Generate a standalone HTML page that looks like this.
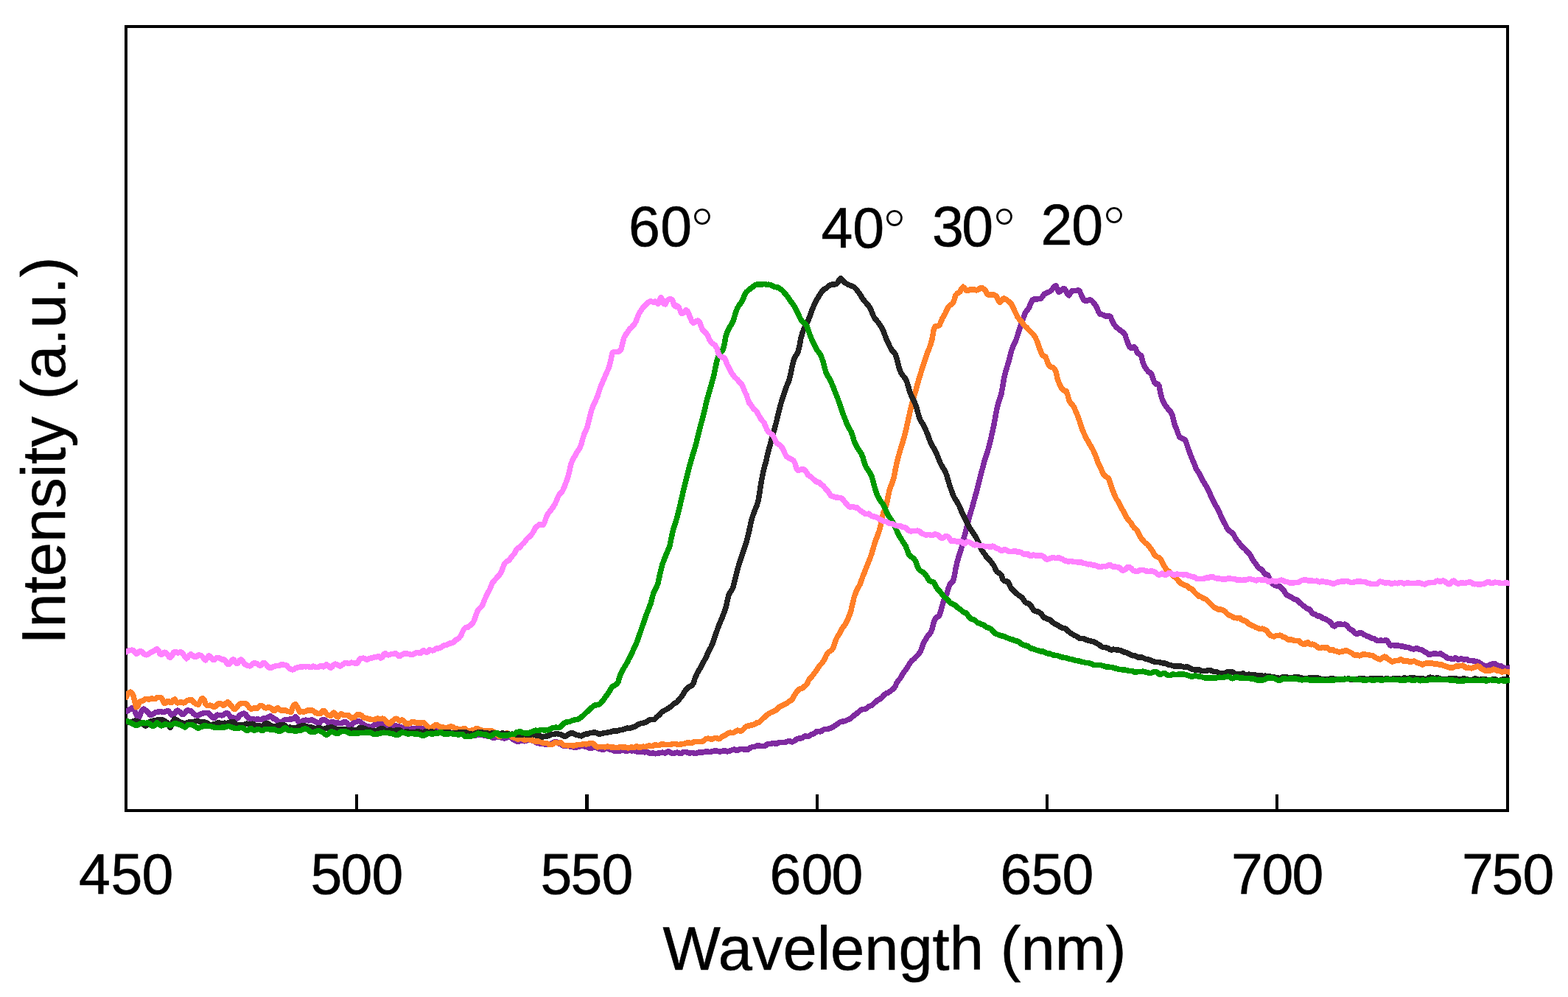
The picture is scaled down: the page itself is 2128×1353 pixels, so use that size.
<!DOCTYPE html>
<html lang="en">
<head>
<meta charset="utf-8">
<title>Intensity vs Wavelength</title>
<style>
html,body{margin:0;padding:0;background:#fff;}
body{width:2128px;height:1353px;overflow:hidden;position:relative;}
svg{position:absolute;left:0;top:0;display:block;}
text{font-family:"Liberation Sans",sans-serif;fill:#000;stroke:#000;stroke-width:0.6px;stroke-linejoin:round;}
.tick{font-size:77px;}
.ann{font-size:77px;}
.thin{fill:#fff;stroke:none;}
.trim{fill:none;stroke:#fff;stroke-width:3.2px;}
.title{font-size:83px;text-anchor:middle;}
.curve{fill:none;stroke-width:7.5;stroke-linejoin:round;stroke-linecap:butt;shape-rendering:crispEdges;}
</style>
</head>
<body>
<svg width="2128" height="1353" viewBox="0 0 2128 1353">
<rect x="0" y="0" width="2128" height="1353" fill="#fff"/>
<g id="frame" fill="none" stroke="#000" stroke-width="4" shape-rendering="crispEdges">
<rect x="171" y="36" width="1875" height="1064"/>
<path d="M482 1078h4v22h-4zM794 1078h5v22h-5zM1107 1078h4v22h-4zM1419 1078h4v22h-4zM1731 1078h4v22h-4z" fill="#000" stroke="none"/>
</g>
<defs><clipPath id="plotclip"><rect x="171" y="30" width="1878" height="1075"/></clipPath></defs>
<g id="curves" clip-path="url(#plotclip)">
<path class="curve" stroke="#7f2aa0" d="M167.0 964.9l2-0.6l2 0.8l2-0.3l2-1.4l2-1.1l2-1.5l2 0.3l2 4l2 4.1l2 3.9l2-0.1l2-5l2-4.3l2-1.6l2 1.8l2 1l2 2l2 3l2 0.4l2-0.9l2-1.2l2-1.3l2-0.6l2-0.2l2-0.5l2 0.2l2 0.6l2 0l2-1l2-0.9l2 0.7l2 2.6l2 2.5l2 0.8l2-2.5l2-3.5l2-1l2 1.2l2 2l2 2.3l2 0.1l2-2.1l2-3l2-0.9l2 0.6l2 0.6l2 1.7l2 2.2l2 1.6l2 0.6l2-0.2l2-1.1l2-0.8l2-0.7l2-0.7l2 0l2 0.1l2 0.1l2 2.3l2 2.1l2 2l2 0.4l2-2.7l2-1.7l2 0.3l2 0l2 0.4l2-0.3l2-1.7l2-1.4l2 0.7l2 2.5l2 2.3l2 0.8l2 0.4l2 0.4l2 0.7l2-0.8l2-3.7l2-1.2l2-0.8l2-0.7l2 1l2 3l2 2.4l2 0.9l2 0.6l2 0l2 0.3l2 0.2l2-0.6l2 0.2l2 0.8l2-0.4l2-1.3l2-0.4l2-0.3l2-0.7l2-1.1l2-0.7l2 1.3l2 1.9l2 0.8l2 1l2 2.1l2 1l2 0l2-0.3l2-2.1l2-1.2l2 0.3l2-0.4l2-0.1l2-0.2l2-0.4l2-0.9l2-2.1l2 2.2l2 4.7l2 0.8l2-0.5l2-1.6l2-0.8l2-0.2l2 0.2l2 0.5l2-0.6l2-0.4l2 0.9l2 1l2 1l2 1.6l2 0.4l2-2.1l2-2.6l2-0.6l2 0.7l2 1.3l2 1.6l2 0.6l2-0.5l2-0.6l2 0.4l2 1l2 0.1l2-0.1l2 0.6l2 0.1l2-1l2-0.9l2-0.2l2 1.6l2 2.6l2 1.5l2-1.1l2-2.6l2-1.7l2-0.6l2-0.5l2-0.1l2 0.7l2 1.9l2 2l2 1.1l2 0.7l2 0.6l2 0.5l2 0.2l2-0.5l2-1.4l2-1.2l2-0.4l2 0.1l2 0.1l2-0.2l2 0.1l2 0.6l2 1.1l2 1.9l2 1.1l2 0.1l2-0.8l2-1.7l2-0.8l2 0.4l2 0.7l2 0l2 0.8l2 1.1l2 0.3l2 0.6l2 0.9l2 0.2l2 0l2 0l2-0.7l2-0.2l2 0.6l2-0.7l2-1.4l2 0.5l2 1.1l2-0.3l2 0.3l2 2l2 1l2 0.5l2 1.1l2 0.9l2-0.1l2-1.5l2-1.2l2 0.5l2 0.8l2 0.4l2-0.4l2-0.3l2 0.3l2-0.2l2 0.6l2 1.2l2 0.9l2-0.2l2-1l2 0.7l2 0.9l2 0l2-0.1l2-0.1l2 0.6l2 0.2l2-0.8l2 0.1l2 0.4l2 0.5l2 0.8l2 0.5l2 0.5l2 0.1l2-0.6l2-0.5l2-0.3l2 0.1l2 0.6l2 0.5l2 0.2l2 0.5l2 0.4l2 0l2 0.8l2 1.5l2 0l2-1.1l2-0.4l2 0.1l2 0.5l2 0.9l2 0.2l2 0.2l2-0.3l2-1.6l2-0.7l2 1.2l2 2.2l2 0.8l2 1.2l2 1.3l2 0.5l2-0.5l2-1.2l2-0.1l2 1.1l2-0.1l2-1l2-0.2l2-0.3l2 0l2 1l2 0.8l2 1.1l2 1.1l2 0.5l2 0.5l2 0.3l2 0l2 0.5l2 0.4l2-0.1l2-0.4l2-0.6l2-0.3l2-1.1l2-1.3l2 0.2l2 1.8l2 0.4l2 0.3l2 1.7l2 1.4l2 0.4l2-0.4l2-0.1l2 0.7l2 0.1l2 0.4l2 0.8l2 0.2l2-0.7l2-0.4l2-0.4l2-0.6l2 0.2l2 0.2l2 0.3l2 0.7l2 0.8l2 1.1l2-0.4l2-1.4l2 0.1l2 0.6l2 0.8l2 0.7l2 0.5l2 0.4l2 0.1l2-0.9l2-0.9l2 0.5l2 1l2 0.4l2 0.7l2 1.1l2 0.2l2-0.1l2 0.2l2-0.1l2-0.5l2-0.4l2 0l2 0.9l2 0.3l2-1.3l2-0.1l2 0.8l2-0.2l2 0l2 1l2 0.6l2 0.4l2-0.5l2-0.7l2 0.8l2 0.7l2-0.6l2 0.3l2 1.3l2 0.7l2-0.5l2-0.2l2 0.8l2-0.2l2-0.6l2-0.1l2-0.4l2-0.4l2 0.6l2 0.2l2-1.5l2-0.7l2 1.3l2 0.8l2 0.5l2-0.1l2-0.9l2-0.1l2 0.7l2 0.6l2-0.4l2-1.2l2-0.4l2 0.2l2 0.4l2 0.9l2 0l2-0.5l2 0.4l2 0.7l2-0.5l2-0.8l2-0.2l2-0.3l2 0.1l2-0.2l2-0.7l2-0.2l2 0.4l2 0.3l2-0.3l2-0.7l2-0.3l2 0l2 0l2 0.5l2 0.3l2-0.2l2-0.6l2-0.5l2 0.5l2 0.7l2-0.3l2-1l2-0.6l2-0.7l2-0.3l2 1.1l2 0.3l2-1l2-1l2-0.1l2 0.6l2-0.1l2 0.2l2 0.2l2-1.2l2-1.7l2-0.6l2-0.1l2-0.6l2-1l2-0.3l2 0.5l2 0.5l2 0l2 0l2-0.7l2-1.9l2-0.8l2 0.4l2-0.6l2-0.6l2 0.5l2 0.4l2-0.6l2-1.1l2-0.4l2 0.1l2 0.1l2-0.1l2-0.5l2-0.9l2-0.7l2 1l2 0.6l2-0.9l2-1.2l2-1.5l2-1l2-0.5l2 0.1l2-0.6l2-1.6l2-0.9l2 0.5l2 0.3l2-1.3l2-1.5l2-0.6l2-1l2-1.5l2-1.4l2 0.1l2 0.6l2-0.9l2-1.6l2-0.9l2 0l2-0.3l2-0.5l2-0.4l2-1.2l2-1.1l2-1.1l2-1.5l2-1.3l2-1.6l2-1.1l2-0.3l2-0.3l2-0.4l2-0.9l2-1.1l2-0.7l2-1.2l2-2l2-1.6l2-1.3l2-1.5l2-1.8l2-1.7l2-1.6l2-0.5l2-0.1l2-0.8l2-1.3l2-1.7l2-0.7l2-0.5l2-2l2-1.8l2-1.7l2-2l2-0.9l2-0.9l2-1.8l2-2.2l2-2.1l2-1.2l2-0.8l2-1.1l2-1.6l2-1.6l2-1.5l2-3.1l2-4.4l2-3l2-2.2l2-3.2l2-3.6l2-3l2-2.7l2-2.9l2-3.2l2-3.1l2-2.8l2-1.6l2-1.7l2-2.5l2-1.6l2-2.1l2-3.3l2-4.6l2-6.2l2-3.7l2-3.2l2-3.5l2-2l2-2.5l2-5.3l2-7.6l2-5.7l2-2.2l2-0.9l2-2.2l2-6.1l2-7.7l2-6.3l2-4.8l2-4.4l2-6.7l2-5.5l2-2.3l2-1.2l2-6.7l2-11.2l2-9l2-7l2-6.1l2-6.6l2-8.2l2-7.9l2-7l2-8.2l2-8.8l2-6.7l2-6.2l2-7.4l2-7.2l2-7.2l2-7.7l2-8.2l2-7.8l2-7.5l2-8l2-6.7l2-5.8l2-6.6l2-7.2l2-8.6l2-9l2-8.9l2-11.2l2-10.7l2-7.7l2-6.1l2-6.3l2-10.9l2-12.2l2-7.5l2-6.6l2-6.5l2-8.1l2-7.5l2-5.3l2-4.1l2-4.6l2-5.9l2-6.4l2-6.1l2-5.4l2-6.2l2-5.6l2-3.1l2-2.3l2-3.6l2-5.1l2-4.2l2-1.1l2 0.2l2 0l2-0.5l2-0.3l2-0.5l2-2.7l2-2.9l2-1.2l2-1l2-0.7l2-0.8l2-1.8l2-2.4l2-3l2-0.7l2 5.3l2 3.3l2-0.9l2-2.2l2-1.6l2 0.5l2 3.5l2 3.8l2 1.3l2-3.3l2-3.1l2 0.2l2 0.2l2-0.3l2-0.6l2 1l2 4.3l2 4.7l2 3.7l2 0.8l2-0.3l2-0.4l2-0.8l2 0.6l2 2.2l2 2.2l2 3l2 3.6l2 4.9l2 3.2l2 0l2 0.9l2 1.1l2 0.8l2-0.3l2-0.5l2 1.3l2 4.5l2 4.5l2 2.8l2 2.3l2 1.8l2 1.6l2 1.6l2 1.4l2 1.5l2 3l2 6.2l2 5.5l2 4.3l2 1.7l2-0.8l2-0.8l2 1.4l2 5.4l2 2.1l2 1.5l2 2l2 8l2 5.3l2 2.9l2 3l2 2.4l2 0.9l2 2.5l2 6.2l2 5l2 1.9l2-0.4l2 2.7l2 10l2 7.4l2 4.2l2 3.9l2 2.8l2 2.7l2 2.6l2 1.7l2 4.7l2 8.2l2 6.5l2 4.7l2 5.8l2 4.4l2 1.3l2 0.6l2 0.8l2 2.2l2 5.7l2 6.2l2 5.2l2 5.4l2 4.6l2 4.8l2 5.2l2 3.6l2 2.6l2 4.1l2 4.3l2 3.5l2 3.1l2 3.2l2 3.5l2 4.1l2 4.9l2 4.5l2 3.9l2 3.7l2 3.6l2 3.3l2 4.3l2 4.8l2 4.3l2 3.6l2 3.8l2 4.2l2 2.8l2 1.9l2 1.4l2 1.3l2 3.4l2 4l2 2.4l2 2.2l2 2.9l2 2.9l2 1.7l2 1.3l2 2.4l2 2.2l2 2l2 2.9l2 3.6l2 3.3l2 2.8l2 2.5l2 3.1l2 2.4l2 0.5l2 1.4l2 3.4l2 2.4l2 0.2l2 1.6l2 3.9l2 4l2 3.1l2 1.5l2 1.1l2 0.5l2-0.1l2 0.8l2 2.2l2 1.6l2 2.7l2 3.5l2 1.9l2 0.9l2 1.1l2 1.1l2 1.4l2 1.2l2 0.4l2 0.8l2 2.2l2 1.9l2 1.8l2 1.7l2 1.3l2 1.7l2 1l2 0.5l2 2.2l2 3.1l2 1.1l2 0.3l2 1.7l2 1.2l2-0.2l2 1l2 1.7l2 0.6l2 0.6l2 1.4l2 0.9l2 1.4l2 2.6l2 2.5l2 1l2-1.3l2-1.6l2-0.4l2 0.4l2 0.4l2-0.1l2-0.1l2 1l2 2.1l2 2.5l2 1.5l2 0.8l2 2.2l2 2.1l2 0.7l2-0.2l2-1l2-0.3l2 1.3l2 1.2l2 0.9l2 1.2l2 0.5l2 0.8l2 1.5l2 0.5l2 0.2l2 1.4l2 1.5l2 0l2-0.6l2 0.1l2 0.4l2-0.4l2-0.8l2 2l2 3.2l2 2.4l2-0.2l2-0.4l2 1.1l2-0.2l2-0.6l2 0.9l2 0.3l2 0.1l2 0.5l2 0.7l2 0.2l2 0.1l2 0.8l2 1l2 0.5l2 0.2l2-0.8l2-0.4l2 1.1l2 0.5l2 0.4l2 1.2l2 1.2l2 1.1l2 1.4l2 1.5l2 0.1l2-0.5l2-0.5l2-0.6l2 0.4l2 0.6l2-0.3l2-0.4l2 1.2l2 1.5l2 0.8l2 1.7l2 1.5l2 0l2 0.2l2 0.8l2-0.5l2-1.3l2 0.5l2 1.8l2-0.4l2-1.2l2 0.9l2 0.9l2-0.6l2 0l2 1.5l2 0.5l2-0.2l2 0.4l2 0.1l2 0.6l2 0.7l2 0.4l2 1.6l2 1.6l2 0.8l2 0.9l2 0.7l2-0.2l2-1.2l2-1.2l2-0.6l2-0.8l2 0.2l2 1.6l2 1.7l2 0.5l2-0.4l2 1.2l2 1.1l2 0.5l2 0.2l2-0.5l2-0.2l2 0.1l2-0.3"/>
<path class="curve" stroke="#ff7f27" d="M167.0 946.7l2-0.2l2 0.2l2-4.1l2-2.6l2-0.8l2 1.5l2 3.8l2 8l2 7.2l2-1.4l2-5.7l2-1l2-0.5l2-0.9l2-1.3l2-0.5l2 0.6l2-0.2l2-0.7l2-0.1l2 0.8l2-0.4l2-1.6l2-0.3l2-0.1l2 0.6l2 3.6l2 3.9l2-0.5l2-2.3l2 0.2l2 1.8l2-0.4l2-3.2l2-1.1l2 2.5l2 2.4l2-0.3l2-1.1l2 0.6l2 0.8l2-0.6l2-2l2-1l2-0.2l2-0.8l2 1.4l2 2.3l2 1.4l2 1.3l2 0.6l2-3.2l2-4l2-1.7l2 2.3l2 5.7l2 2.3l2-0.1l2-0.5l2 0.3l2 1.4l2 0.8l2-1.4l2-2.5l2-1.1l2 0.1l2 1.2l2 1.5l2-1.2l2-2l2-1.3l2 1.1l2 3.1l2 2l2 2.7l2 0.7l2-1.8l2-3l2-2.2l2-0.7l2-0.2l2 0.1l2 0.1l2 1l2 2.7l2 2.5l2 1.2l2-0.5l2-0.8l2 0.1l2 0.3l2-1.7l2-1.8l2-0.3l2 1l2 1.9l2 0.6l2-0.9l2-0.2l2 0.6l2 1.3l2 2.6l2 0l2-2.9l2-0.6l2 2l2 1l2 0.4l2-0.3l2-0.1l2 0.9l2 0.6l2 0.5l2 0.4l2-6.1l2-3.3l2-1l2 2.8l2 3.5l2 3.9l2-0.4l2 0.1l2 0.2l2-0.8l2-1.2l2 0l2 0.2l2-0.3l2 0.6l2 1.8l2 1.4l2 0.3l2 0.6l2 0.1l2-2.6l2-1.8l2 1.4l2 2.8l2 1.7l2 0.8l2 0.1l2-2.1l2-1.9l2 2.1l2 3.3l2 0.4l2-2.6l2-1.7l2 1l2 1l2-0.2l2-0.1l2 0.6l2 2.1l2 1.2l2-0.6l2-0.4l2-1.7l2-1.7l2 0.2l2 0.1l2 1.2l2 2.3l2 0.7l2 0l2 0.8l2 0.8l2 0.2l2 0.4l2 0l2-0.4l2-0.7l2-0.4l2 0.5l2 0l2-0.4l2 0.4l2 1.9l2 2.5l2 2l2 0.1l2-1.7l2-2.1l2-1.7l2-1.3l2 0.2l2 1.9l2 0.8l2-1l2 0.2l2 2.3l2 2.6l2 0.2l2-0.5l2-0.8l2-1.3l2-0.3l2 0.8l2 0.5l2 0.2l2 0.2l2 0.1l2-0.7l2-0.1l2 2l2 2.2l2 1.6l2 2l2 0.3l2-1.3l2-2l2-1.6l2 0.1l2 1.3l2 1.1l2 0.2l2 0.4l2 0.8l2 0.3l2-0.3l2-0.9l2-0.5l2 0l2 0.7l2 1.1l2 0.5l2 0.6l2 0.3l2 0.6l2-0.1l2-1.3l2 0.1l2 1.8l2 1.2l2 0.5l2-0.8l2-0.5l2 0.1l2-1.2l2-1.5l2 0.8l2 0.9l2 0.8l2 1.4l2-0.1l2-0.8l2 0.2l2 0.7l2-0.1l2-0.2l2 0.8l2 1.1l2 1.3l2 2.2l2 2.2l2 0l2-1.4l2-0.8l2-1l2-1.1l2-0.1l2 0.9l2 2.2l2 2.2l2 0.5l2 0.1l2 1.1l2 1.2l2-1l2-1.1l2 1.4l2 1.5l2 0l2-0.6l2 0.1l2 0.3l2-0.1l2 0.7l2 1.2l2 0.5l2 0l2-0.3l2 0.2l2 1.1l2 1.1l2 0.2l2 0l2 0.5l2 1.1l2 0.5l2-0.5l2-1l2-1.2l2-0.3l2 0.8l2-0.1l2-0.7l2 2l2 2l2-0.2l2 0.1l2 0.3l2-0.3l2 0l2 0.5l2-0.1l2-0.5l2-0.4l2-0.6l2 0l2 0.1l2-0.6l2-0.3l2 0.3l2-0.1l2-0.7l2-0.7l2 0.1l2 0.8l2 1.5l2 2.2l2 1l2-0.5l2-0.2l2 0l2 0.2l2 0.4l2-0.6l2-0.2l2 0.5l2 0.2l2 0.1l2 0.3l2 0.3l2 0.1l2-0.3l2-0.5l2-0.1l2 0.2l2 0.2l2 0l2 0.6l2 0.3l2-0.7l2-0.4l2 0.4l2 0l2-1.1l2-0.2l2 1.1l2 0.2l2-0.9l2-0.3l2 0.6l2-0.4l2-0.9l2-0.5l2 0.4l2 0.4l2-0.8l2-1.2l2 0.3l2 0.8l2-0.4l2-1.2l2-0.5l2 0.5l2 0.5l2-0.2l2-0.2l2 0.2l2-0.4l2-0.6l2-0.2l2 0.3l2 0.5l2 0.4l2-0.3l2-0.4l2-0.1l2-0.6l2-0.4l2-0.8l2-0.1l2 0.7l2-0.4l2-0.9l2-0.6l2-0.3l2 0.1l2 0.1l2-0.2l2-0.1l2-1l2-1.6l2-1.3l2-0.1l2 0.5l2 0.5l2-0.3l2-0.9l2-0.7l2 0.5l2 1l2-0.5l2-1.7l2-1.4l2-0.8l2-1.2l2-1.5l2-1.2l2-0.5l2 0.5l2-0.1l2-0.9l2-1.4l2-1l2 0.3l2 0.9l2-0.6l2-2.3l2-2.1l2-1.5l2-0.7l2-0.2l2-0.8l2-0.2l2-0.3l2-1.6l2-1.2l2 0l2-1.4l2-2l2-1.9l2-1.6l2-1.7l2-2l2-1.5l2-1.3l2-0.7l2-0.8l2-1.1l2-0.9l2-2.1l2-2l2-0.9l2-1l2-1.2l2-1.2l2-0.8l2-1.2l2-1.6l2-1l2-1.7l2-3.6l2-3.6l2-2.5l2-2.9l2-1.6l2-0.2l2-1l2-1.9l2-1.3l2-2.2l2-4.3l2-3.4l2-1.6l2-2.5l2-3l2-2.4l2-3l2-3.1l2-2.5l2-2.2l2-2.3l2-3.4l2-4.6l2-3.6l2-1.9l2-1.1l2-1.7l2-3.4l2-5.8l2-5.7l2-3.8l2-3l2-3.3l2-3.9l2-2.9l2-2.8l2-3.8l2-4.2l2-4.9l2-6.1l2-8.6l2-8.6l2-5.8l2-4.6l2-3.8l2-3.6l2-5.3l2-5.9l2-4.8l2-5l2-5l2-5l2-5.3l2-5.6l2-7.1l2-6.5l2-5.8l2-5.4l2-5.4l2-7.8l2-10.5l2-7.4l2-4.9l2-5.5l2-10l2-9.4l2-5.9l2-4.8l2-6.5l2-10.3l2-9.4l2-8.1l2-7.2l2-6.5l2-6.4l2-7.1l2-7.9l2-8.5l2-9.3l2-8.8l2-8.1l2-7.8l2-7.1l2-6.4l2-7.5l2-7.6l2-6.2l2-6.3l2-6.6l2-5.7l2-6.3l2-5.8l2-4.4l2-5.8l2-7l2-11.6l2-5.7l2-0.4l2 0l2-1.4l2-4.5l2-4.9l2-3.1l2-3.7l2-4.6l2-3.9l2-2.2l2-1l2-1.9l2-4.4l2-6.2l2-2.7l2-0.7l2-1.5l2-4.1l2-2.5l2 1.8l2 2.7l2 0.8l2-0.8l2-1.1l2 0.2l2 0l2 0.3l2 0.6l2-0.2l2-1.6l2-1.6l2 0.3l2 1.5l2 1.6l2 4.1l2 2.1l2 0l2-0.1l2-0.1l2 0.3l2 0.9l2 2.1l2 4.6l2 2.6l2-2l2-2.9l2-0.4l2 1.4l2 1l2 1.8l2 1.9l2 2l2 4.1l2 4.7l2 4.1l2 4.1l2 2.8l2 1.7l2 2.7l2 3.2l2 2.1l2 1.6l2 2.2l2 2.3l2 2l2 1.7l2 2l2 3.3l2 4.3l2 5.5l2 5.8l2 5l2 3.8l2 1.2l2 0.9l2 5.4l2 5.5l2 2.1l2 1l2 0.2l2 1.9l2 4l2 9.2l2 5.5l2 4.5l2 3.6l2 2.1l2 1.2l2 0.4l2 5.1l2 8.1l2 2.9l2 1.7l2 2.9l2 4.4l2 4.5l2 5l2 5.7l2 6.3l2 5.8l2 4.8l2 4.2l2 3.9l2 3.4l2 3.7l2 3.4l2 3.3l2 4.4l2 4.7l2 5.5l2 5.4l2 3.6l2 4.5l2 4.6l2 2.7l2 1.7l2 1.1l2 2.1l2 6.3l2 6.3l2 5l2 5l2 4.3l2 2.7l2 3.8l2 4.3l2 3.1l2 3.6l2 4.1l2 3.4l2 3l2 2.3l2 2.3l2 3.4l2 2.8l2 1.7l2 2.1l2 3.7l2 4l2 3.2l2 2.6l2 2.2l2 1.9l2 1.2l2 2.4l2 2.9l2 2.2l2 3.6l2 3.5l2 1.8l2 1.1l2 0.5l2 2.1l2 4.1l2 3.8l2 3.5l2 3l2 2l2 0.9l2 1.7l2 2.5l2 1.8l2 1.6l2 1.8l2 2.3l2 2.7l2 1.5l2 1.1l2 1.1l2 0.3l2 0.8l2 2.1l2 1.5l2 0.3l2 1.6l2 2.9l2 1.9l2 1.8l2 1.9l2 0.4l2 0.9l2 1.4l2 0.6l2 1.2l2 1.8l2 2.2l2 2l2 1.7l2 2.1l2 1.4l2 1l2 1.2l2 0.3l2-0.3l2 0.5l2 1.2l2 1.5l2 2.4l2 2l2 0.7l2 0.7l2 1.2l2 1l2 0.3l2 0.4l2-0.5l2 0.2l2 2.2l2 1.1l2 0.1l2 1.1l2 1.9l2 1.8l2 0.9l2 1l2 0.9l2 0.8l2 1.3l2 0.6l2 0.8l2 0.4l2-0.4l2 0.8l2 0.7l2 1.1l2 2.9l2 2.8l2 1.3l2 0.7l2 0.5l2-0.9l2-0.6l2 0.1l2-0.4l2 0.7l2 1.4l2 0.7l2 0.7l2 1.6l2 0.9l2-0.1l2 0.2l2 0.6l2 0.5l2 0.4l2-0.2l2 0.3l2 2.1l2 1.6l2 0.7l2-0.1l2-1.8l2-0.5l2 2l2 1l2-0.6l2 0.3l2 1.5l2 1.3l2 1.4l2 0.9l2-0.5l2-0.7l2 0.6l2 0.1l2-0.3l2 1.6l2 1.8l2-0.5l2 0.2l2 1.7l2 0.1l2 0.3l2 0.9l2-0.2l2-0.5l2-0.3l2-0.9l2-0.4l2 0.9l2 1.1l2 0.9l2 1.1l2 1.5l2 1l2 0l2 0.1l2 0.6l2-0.2l2-1.4l2-0.7l2 0.8l2 0l2 0.1l2 0.9l2 0.3l2 0.3l2 1.3l2 1.3l2 0.9l2 1l2 0.5l2-1.2l2-1.6l2-0.9l2 0.6l2 2.2l2 1.1l2 1.3l2 1.5l2-0.1l2-0.9l2-0.5l2 0.1l2-0.6l2-1.1l2 0.6l2 1.7l2 0.1l2-0.7l2 0.8l2 0.9l2 0l2-0.6l2-0.4l2 0.8l2 1.2l2 0.6l2 0.5l2 1.1l2 0.7l2-1.2l2-0.9l2-0.2l2 0l2 0.3l2-0.2l2 0.4l2 0.8l2-0.3l2 0.3l2 0.9l2 0l2 0l2 1.1l2 0.7l2 0.5l2 1l2 0.5l2 0.2l2 0.2l2-0.6l2-1.2l2-0.6l2 0l2 0l2-0.4l2-0.3l2 1.1l2 1.6l2 0.6l2-0.3l2 0.3l2 0.6l2-0.8l2-0.8l2-0.4l2-0.8l2 0l2 1.9l2 1.7l2 0.9l2 1.2l2 0.8l2-0.6l2-0.4l2 0.2l2-0.7l2-1l2 0.5l2 1.3l2 0.2l2 0.3l2 1.1l2 0.4l2-0.6l2-0.4l2 0.6l2 0.3l2 0.4l2 1l2-0.9"/>
<path class="curve" stroke="#222222" d="M167.0 979.3l2 0.2l2 0.3l2 0.1l2 0.1l2 0.2l2-0.5l2-1l2-0.6l2 0.3l2 0.8l2 0.7l2 0.6l2 1l2 1.6l2 1.8l2-0.1l2-2.5l2-2.6l2-0.9l2-0.4l2-0.9l2-0.1l2-0.2l2-0.6l2 0.3l2 0.4l2-0.2l2 1.2l2 1.3l2 1l2 3.6l2 3.3l2-3.3l2-5.4l2-2.9l2 0.5l2 1.4l2 1.4l2 1.2l2 0.5l2 0.9l2 0.6l2-0.9l2-1.1l2-0.4l2-0.1l2 0l2-0.4l2-0.6l2-0.5l2 0.2l2 0.8l2 0.2l2-0.3l2 0.4l2 0.7l2 0.6l2 1.5l2 1.1l2-0.2l2-0.3l2-0.1l2-0.9l2-1.1l2-0.2l2 0.8l2 0.4l2-0.6l2-0.3l2 0.4l2-0.2l2-0.8l2-0.7l2-0.4l2 0.4l2 2.3l2 2.2l2 0.2l2-0.7l2-0.3l2 0.5l2-0.1l2-1l2-0.7l2 0.5l2 0.2l2-0.6l2-0.1l2 1.3l2 1l2 0.2l2 0.3l2 0.2l2 0.3l2-0.4l2-2.4l2-0.8l2 0l2 0.8l2 1.4l2 1.3l2 0.8l2-0.2l2-0.5l2-0.6l2-0.7l2-0.1l2-0.3l2-0.3l2 1.5l2 1.9l2 0.5l2-0.3l2 0.2l2 0.5l2 0.3l2-0.1l2-0.7l2-0.7l2-0.8l2-0.8l2-0.4l2 0.3l2 0.5l2 0.6l2 0.6l2 0.1l2 0.5l2 0.6l2 0.5l2 0.1l2-0.3l2-0.4l2 0.4l2 1.4l2 0.4l2-1l2-0.8l2-0.3l2-0.4l2-0.4l2 0l2 1l2 1l2 0.4l2 0.6l2 0.1l2-0.5l2-0.2l2 0.1l2 0.1l2 0.8l2 0.8l2-0.6l2-0.4l2 0.4l2 0.4l2 0l2-0.6l2-1.5l2-1.6l2 0.1l2 0.7l2 0.6l2 1l2 0.8l2 0.1l2 0.5l2 0.4l2-0.1l2 0.5l2 0.1l2-1.1l2-1.1l2-1.1l2-0.1l2 1.3l2 1.2l2 0.4l2-0.2l2-0.2l2 0.1l2 0.3l2 0.2l2-0.6l2-0.5l2-0.1l2 0.8l2 1.4l2 1.2l2-0.4l2-0.8l2 0.2l2 0.4l2 0.3l2 0.1l2 0.1l2-0.2l2-0.5l2 0l2 0l2 0.5l2 1.1l2-0.6l2-1.4l2 0l2 0.6l2 0l2-0.5l2 0.2l2 0.7l2 0.4l2 0.2l2 0.2l2-0.3l2-0.6l2 0l2-0.2l2 0l2 0.2l2-0.1l2 0.7l2 0.9l2-0.1l2-0.6l2-0.1l2 0.1l2-0.4l2-0.2l2-0.3l2-0.2l2 0.2l2 0.5l2 1.3l2 0.5l2 0l2 0.7l2-0.3l2-1.2l2-0.7l2-0.3l2-0.4l2 0l2 0.7l2 0.4l2-0.1l2 0.3l2 0.9l2 0.1l2-0.7l2-0.2l2 0.1l2-0.2l2 0.1l2 0.5l2 0l2-0.4l2 0.1l2 0.7l2-0.3l2-0.3l2 1l2 0.2l2-0.3l2 0.2l2 0.3l2 0.6l2-0.1l2-0.4l2 0.5l2-0.2l2-0.7l2 0.6l2 0.5l2 0l2-0.1l2-0.6l2-0.1l2 0.6l2 0.6l2-0.1l2-0.2l2 1.2l2 1.3l2-0.2l2-0.4l2-0.3l2-0.3l2-0.4l2-1.2l2-0.9l2-0.1l2-0.1l2-0.5l2 0l2 0.8l2 0.3l2 0.7l2 1.4l2 0.4l2-1.1l2-1.5l2-1.1l2-0.9l2 0.1l2 0.8l2 1.3l2 0.6l2 0.3l2 0.6l2 0.5l2-1l2-1.4l2-0.3l2-0.1l2-0.8l2-0.6l2-0.1l2-0.6l2-0.3l2 0.6l2 1.1l2 0.7l2-0.2l2-0.5l2-0.6l2-0.2l2-0.3l2-0.4l2-0.4l2-0.4l2-0.5l2-0.7l2 0l2 0.2l2-0.7l2-0.6l2-0.2l2-0.4l2-0.6l2-0.8l2-0.7l2 0.2l2 0l2-0.7l2-0.8l2-0.5l2-1.2l2-1.5l2-0.9l2-0.7l2-0.6l2-0.3l2-0.5l2-0.9l2-1.2l2-1.3l2-0.7l2 0.1l2 0.1l2-1.2l2-2.2l2-1.6l2-1.8l2-2.4l2-1.7l2-1.3l2-1l2-1l2-1.3l2-1.3l2-1.3l2-1.9l2-2l2-0.8l2-1.4l2-2.7l2-2.1l2-2.1l2-3.4l2-3.5l2-2.6l2-2.2l2-1.7l2-0.8l2-1.2l2-2.6l2-6.7l2-4.7l2-4.1l2-3.2l2-3.1l2-4.2l2-4l2-3.2l2-4.1l2-4.8l2-3.9l2-3.6l2-4.7l2-5.9l2-5.8l2-5.6l2-5.8l2-4.8l2-4.5l2-5.2l2-5.5l2-5.9l2-8.3l2-8.7l2-3.6l2-2.7l2-4.1l2-8.2l2-8.5l2-7.8l2-6.9l2-6l2-5.7l2-6.1l2-5.9l2-6.4l2-7.6l2-8.8l2-9.2l2-7.8l2-5.8l2-5.1l2-4.9l2-6.1l2-12.1l2-13.3l2-10.6l2-8.6l2-7.3l2-8.2l2-8.2l2-7.7l2-7.5l2-7.4l2-6.8l2-7.3l2-8.1l2-8.3l2-7.9l2-7.3l2-6.3l2-5.8l2-6l2-4.6l2-5.2l2-8.3l2-9.5l2-8.5l2-5.3l2-2.6l2-3.5l2-8.1l2-11l2-7.1l2-5.1l2-4.4l2-3.9l2-4.1l2-4.9l2-5.7l2-5.4l2-4.4l2-4.1l2-4.1l2-3.1l2-3l2-3.1l2-2.6l2-1.7l2-0.9l2-1.7l2-1.7l2-0.9l2-0.8l2-0.1l2 0l2-0.6l2-1.8l2-4.2l2-1.5l2 1.7l2 2.4l2 1.8l2 1.2l2 1.1l2 0.9l2 0.8l2 0.7l2 1.1l2 1.7l2 2.4l2 2.8l2 2.7l2 3.1l2 3.5l2 2.6l2 2.2l2 2.4l2 2.3l2 3l2 4.6l2 5.2l2 4l2 2.1l2 2.2l2 3l2 2.7l2 2.9l2 4.3l2 5.6l2 5.3l2 4.3l2 4.4l2 4.1l2 3l2 2l2 2.7l2 5.7l2 8.5l2 6.6l2 4.7l2 3.3l2 2.2l2 2.6l2 4.7l2 6.7l2 6.8l2 4.9l2 3.9l2 4.1l2 4.9l2 6.9l2 7.6l2 5.3l2 3.2l2 3.2l2 4l2 4.5l2 4.7l2 5.5l2 5.5l2 3.8l2 3.3l2 3.9l2 3.8l2 4.7l2 5.6l2 4.3l2 3.3l2 3.4l2 3.7l2 5.2l2 7l2 6.5l2 5.7l2 5.7l2 4.5l2 3.3l2 3.1l2 3.5l2 4.2l2 5.2l2 4.3l2 3.6l2 4l2 4.4l2 3.7l2 3.4l2 3.1l2 2.8l2 2.9l2 3.4l2 4.1l2 4.5l2 4.7l2 4.2l2 2.6l2 2.7l2 3.3l2 2.2l2 1.6l2 2.6l2 2.7l2 2.7l2 4.3l2 3.8l2 1.3l2 1.2l2 2.2l2 5.9l2 1.6l2 0.6l2 0.3l2 1.9l2 5.1l2 3l2 1.8l2 2.2l2 2l2 1.5l2 1.5l2 1.4l2 1.5l2 2.6l2 3.3l2 1.3l2 0.5l2 1.3l2 1.9l2 3.1l2 3.1l2 1.3l2 0.4l2 0.4l2 1.2l2 1.6l2 2.6l2 2.9l2 0.4l2 0.7l2 1l2 0.5l2 1.7l2 2.2l2 1.2l2 0.9l2 1.2l2 1.2l2 1.2l2 1.1l2 0.7l2 0.1l2 1.1l2 2.1l2 1.9l2 1.5l2 1.3l2 1.1l2 1.1l2 0.7l2 1.4l2 1.4l2 0.4l2-0.1l2 0.1l2 1l2 1l2 0.5l2 0.5l2 0.4l2 0.6l2 0.5l2 1l2 1.4l2 0.9l2 1.5l2 1.8l2 0.7l2 0.1l2 0.3l2 0.6l2 1l2 1.3l2 0.3l2-0.8l2 0.1l2 0.6l2 0.1l2 0.4l2 0.5l2 1l2 1l2 0.2l2 0.6l2 1.2l2 1l2 0.9l2 1l2-0.1l2 0.3l2 1.6l2 0.8l2-0.6l2 0l2 0.7l2 1.1l2 0.8l2 0.3l2 0.4l2 0.7l2 0.9l2 0.9l2 0.6l2 0.5l2 0l2-0.1l2 0.4l2 0.7l2 0.3l2 0.1l2 0.6l2 1.2l2 0.5l2 0.3l2 0.6l2 0.5l2 0.3l2-0.2l2 0l2 0l2 0.1l2 0.7l2 0.7l2-0.3l2-0.3l2 0.9l2 1.3l2 0.8l2 0.6l2 0.5l2 0.3l2-0.3l2-0.3l2 1.1l2 1l2-0.1l2 0.1l2 0l2-0.8l2-0.5l2 0.5l2 0.8l2 0.7l2-0.1l2 0.2l2 1.1l2 1l2 0.5l2 0l2-0.5l2-0.4l2-1l2-0.9l2 0.2l2 0.6l2 0l2 1.3l2 1.6l2 0.4l2-0.5l2 0.1l2-0.6l2-0.6l2 1.2l2 1.2l2-0.4l2-0.6l2 0.6l2 0.3l2-0.6l2 0.3l2 0.7l2 0.3l2-0.4l2 0l2 0.7l2 0.3l2-0.2l2 0.1l2 0.3l2 0.4l2 0.4l2 0l2 0.5l2 0.6l2 0.2l2 0.4l2 0.3l2-0.7l2-0.9l2 0.2l2 0l2 0.1l2 0.4l2 0l2 0.3l2-0.3l2-0.9l2-0.3l2 0.3l2 0.7l2 0.6l2 0.3l2 0.5l2 0.1l2-0.1l2 0l2-0.8l2-0.2l2 0.3l2-0.3l2 0.2l2 0.4l2-0.2l2 0.4l2 1l2 0.1l2-0.3l2 0.2l2 0.3l2-0.3l2-0.5l2-0.5l2 0.3l2 0.9l2 0.1l2-0.4l2 0.1l2 0.4l2 0.1l2-0.6l2-0.2l2 0.3l2-0.3l2-0.1l2 1.1l2 0.5l2-0.6l2-0.5l2-0.2l2-0.1l2-0.2l2-0.2l2 0l2 0.2l2 0.2l2 0.3l2-0.2l2-0.2l2 0l2-0.3l2-0.1l2 0.1l2-0.3l2-0.2l2-0.1l2 0.4l2 0.8l2-0.1l2-0.8l2 0.1l2 0.9l2 0.2l2-0.5l2-0.4l2 0.4l2-0.2l2-0.7l2 0.5l2 0.6l2-0.5l2-1l2 0l2 0.7l2-0.1l2-0.5l2 0l2-0.2l2-0.1l2 0.5l2 0.1l2-0.1l2 0.3l2 0l2 0.2l2 0.5l2 0.2l2-0.4l2-1.2l2-0.7l2 0.4l2 0.7l2 0.3l2-0.4l2-0.2l2 0.3l2 0.7l2 0.5l2-0.2l2 0.7l2 0.3l2-0.9l2-0.5l2 0l2-0.2l2-0.2l2 0.1l2 0.7l2 0.2l2-0.2l2 0.1l2-0.2l2-0.2l2 0.3l2 0.4l2 0.8l2 0.3l2-0.1l2-0.7l2-0.8l2 0l2 0.8l2 0.4l2-0.2l2-0.3l2-0.6l2 0l2 0.7l2 0.7l2 0.1l2-0.3l2-0.3l2-0.8l2 0.1l2 1.5l2 1l2-0.6l2-0.8l2-0.4l2-0.4l2 0.2l2 0.6l2 0.5l2 0l2-0.4l2-0.6"/>
<path class="curve" stroke="#009900" d="M167.0 979.1l2-0.4l2-0.3l2 0.4l2 0.8l2 1l2 1.1l2 1.2l2 1l2 0.3l2-0.4l2-0.9l2-1.2l2-0.7l2 0.1l2 0.2l2-0.1l2-0.1l2 1.1l2 1.9l2 1.3l2-0.4l2-2.4l2-1.7l2 1.1l2 2l2 1l2-0.7l2-1.1l2-0.2l2 0.4l2 0.3l2 0.3l2-0.2l2-1.3l2-1l2 0.4l2 0.6l2 0.7l2 0.7l2 0.9l2 1.2l2 0.9l2-1.3l2-1.9l2-0.2l2 0.1l2 0.3l2 0.6l2 1.3l2 1.7l2 0.8l2-0.8l2-1l2-0.7l2-0.9l2-0.2l2 0.7l2-0.1l2 0l2 0.7l2 0.5l2 0.6l2 0.6l2-0.2l2 0l2 0.1l2-0.6l2-0.2l2 0.1l2-0.5l2-0.9l2 0.1l2 0.9l2 0.8l2 0.6l2 0.5l2 0.3l2-0.1l2-0.7l2-0.6l2 0.5l2 1.1l2 1.3l2 1.2l2-0.5l2-1.7l2-0.6l2 1.5l2 1l2-0.5l2-0.8l2-0.3l2 0.9l2 1.2l2-0.4l2-1.3l2-0.5l2 0.1l2 0.2l2 0.2l2 0.2l2-0.1l2 0.2l2 0.9l2 0.8l2 0.2l2 0l2-1.3l2-2l2-1.1l2 1l2 2.2l2 0.7l2-0.5l2 0.2l2 0.6l2 0.3l2-0.3l2-0.4l2 0l2-0.5l2-1.1l2-0.8l2-0.1l2 0.6l2 1.6l2 1.7l2 0.8l2 0l2-0.4l2-0.9l2-0.9l2 0.1l2 0.9l2 0.9l2 1.2l2 1.6l2 1l2-0.5l2-2l2-1.6l2 0l2 0.7l2 0.9l2 1l2-0.6l2-1.5l2-0.9l2-0.2l2-0.1l2 0.2l2 0.8l2 0.9l2 1.1l2 0.4l2-0.7l2-0.1l2 0.1l2-0.2l2-0.1l2-0.1l2-0.2l2-0.2l2 0l2-0.2l2-0.3l2 0l2 0.4l2 0.9l2 1l2 0.3l2-0.3l2-0.1l2-0.5l2-0.6l2-0.6l2-0.1l2 0.3l2 0l2 0.1l2 0.7l2 0.4l2 0.1l2 0.8l2 0.9l2 0.1l2-0.8l2-1.6l2-1l2 0l2 0.3l2 0.8l2 0.7l2-0.2l2-0.2l2-0.2l2 0.2l2 0.4l2 0.1l2 0.1l2 0.2l2 1l2 0.8l2-0.1l2-0.9l2-1.1l2-0.8l2 0.1l2 0.5l2 0.2l2-0.4l2-0.6l2 0.2l2-0.2l2-1.2l2-0.3l2 1.7l2 1.1l2-0.3l2 0l2-0.1l2-0.5l2 0.1l2 0.7l2 0l2 0.1l2 0.5l2 0l2-0.5l2-0.1l2 1.3l2 1.6l2 0.2l2-0.2l2 0.2l2-0.3l2-0.6l2-0.6l2-0.8l2-1.1l2-0.8l2 0.4l2 0.6l2 0.5l2 0.1l2 0l2 0.8l2 1.2l2 0.5l2-0.8l2-1.4l2-1.5l2-1.2l2 0.5l2 2l2 1.2l2-0.2l2-0.1l2 0.2l2 0.2l2-0.3l2-0.8l2-0.6l2 0.1l2 0.1l2-1.3l2-1.6l2-0.5l2-0.4l2 0.2l2 1l2 0.7l2 0.1l2 0.4l2-0.2l2-0.9l2-0.8l2-0.7l2-0.8l2-0.7l2 0.1l2 0.2l2-0.7l2-0.5l2 0.4l2 0.4l2-0.4l2 0.1l2-0.1l2-1.5l2-1.2l2-0.3l2-0.4l2-0.2l2 0.3l2-0.2l2-0.9l2-2l2-2.5l2-1.3l2-0.6l2-0.2l2-0.3l2-0.9l2-0.9l2-0.5l2-0.4l2-0.4l2-0.5l2-1.1l2-1.6l2-1.7l2-1.9l2-2l2-1.7l2-1.7l2-1.9l2-1.9l2-1.9l2-1.2l2-0.4l2-0.3l2-0.6l2-1.5l2-2.2l2-2.3l2-3l2-2.9l2-2.5l2-3.1l2-3.7l2-2.8l2-1.1l2-1.1l2-1.6l2-2.8l2-7.1l2-4.9l2-4l2-3.3l2-3.1l2-3.6l2-4.2l2-3.7l2-3.7l2-4.7l2-4.5l2-3.9l2-4.9l2-5.9l2-5.8l2-6l2-5.6l2-5.6l2-5.9l2-5.6l2-4.7l2-5.4l2-7.8l2-6.6l2-4l2-3.9l2-5.6l2-9.3l2-8.4l2-7.7l2-5.6l2-4.9l2-5.2l2-4.4l2-5.1l2-10l2-9.4l2-6.8l2-6.3l2-6.5l2-7.9l2-8.7l2-8.6l2-8.6l2-8.6l2-8.1l2-7.9l2-7.6l2-7.5l2-7l2-6.8l2-6.4l2-6.9l2-8.1l2-8.3l2-7.8l2-7.6l2-7.8l2-8.3l2-8.4l2-7.7l2-6.8l2-7l2-7.3l2-7.5l2-9.6l2-9.8l2-6.1l2-3.6l2-2l2-2.3l2-7l2-11.9l2-6l2-4l2-3.4l2-3.2l2-4.1l2-6.4l2-6.8l2-4.7l2-3.2l2-2.7l2-2.8l2-4.2l2-5.6l2-2.8l2-1.8l2-1.8l2-1.4l2-1.3l2-1.9l2-1.4l2-0.7l2-0.2l2 0.1l2 0.1l2-0.2l2-0.3l2 0.4l2 0.4l2-0.1l2 0.3l2 0.6l2 1l2 1.1l2 0.5l2 0.2l2 1l2 1.4l2 1.3l2 1.9l2 2.3l2 2.4l2 2.7l2 2.9l2 2.8l2 2.8l2 2.9l2 3.2l2 3.7l2 4.3l2 4.5l2 4l2 2.7l2 1.2l2 1.5l2 3.4l2 5.4l2 5.7l2 5.2l2 4.7l2 3.7l2 3.9l2 3.7l2 2.6l2 3.1l2 4.1l2 5.9l2 7.8l2 6.7l2 4.3l2 3.3l2 3.5l2 4.5l2 4.7l2 5.3l2 5.2l2 4.9l2 5.7l2 6l2 5.8l2 5.4l2 5.2l2 5.1l2 4.6l2 3.5l2 3.4l2 5.2l2 7.2l2 4.8l2 3.6l2 3.2l2 2.9l2 3l2 5.1l2 6.9l2 5.4l2 3.4l2 2.9l2 3.2l2 4.2l2 6.7l2 7.5l2 6.5l2 5.6l2 3.6l2 3l2 2.9l2 2.8l2 4.1l2 5.2l2 4.4l2 2.9l2 2.7l2 3l2 3.6l2 4.4l2 4.5l2 4.2l2 3.8l2 3.2l2 3.4l2 3l2 3l2 5.2l2 5.8l2 2.7l2 1.4l2 1.4l2 2.1l2 2.9l2 6l2 4.5l2 1.8l2 0.9l2 1.3l2 2l2 2.4l2 3.5l2 3.3l2 1.1l2 0.3l2 0.8l2 3.1l2 4.1l2 2.6l2 2.3l2 2.2l2 2.5l2 2.7l2 1.8l2 1.2l2 2.4l2 2.6l2 1.4l2 0.8l2 0.7l2 1.5l2 2.1l2 1.5l2 1.2l2 1.6l2 1.8l2 1l2 0.7l2 2.1l2 3.1l2 2l2 1.2l2 0.5l2 0.9l2 1.7l2 1.8l2 0.7l2 0.8l2 0.9l2 0.6l2 1.5l2 1.6l2 0.7l2 0.4l2 1.2l2 2.2l2 2.6l2 1.6l2 0.7l2 0.6l2 0.9l2 0.6l2 0.2l2 0.7l2 1.2l2 0.8l2 0.7l2 0.9l2 0.5l2 0.4l2 0.9l2 0.8l2 0.3l2 1l2 1.9l2 1.4l2 0.8l2 0.7l2 0.2l2 0.6l2 1.9l2 1.1l2 0.2l2 0.6l2 1.1l2 0.6l2 0.5l2 0.9l2 0.4l2-0.2l2 0.6l2 1.4l2 0.9l2 0.1l2 0.3l2 0.8l2 0.8l2 0.4l2 0.1l2 0.4l2 0.6l2 1l2 0.7l2 0.2l2 0.1l2 0.4l2 0.8l2 0.8l2 0.3l2 0.2l2 0.8l2 0.5l2 0.3l2 0.4l2 0.3l2 0.7l2 0.5l2 0.4l2 0.6l2 0.3l2 0.1l2 0.4l2 0.7l2 1l2 0.7l2 0.1l2 0l2-0.3l2 0l2 0.7l2 0.6l2 0.7l2 0.5l2 0.2l2 0.2l2 0.4l2 0l2 0.5l2 0.7l2 0.4l2 0.8l2 0.3l2 0.1l2 0.5l2 0.1l2 0l2 0.6l2 0.7l2 0.4l2-0.2l2 0.4l2 1l2 0.3l2-0.4l2-0.2l2-0.1l2-0.2l2-0.1l2 0.2l2 0.7l2 0.4l2 0.8l2 0.4l2-0.7l2-0.9l2-0.4l2-0.2l2 1.2l2 2.2l2 0.3l2-0.7l2-0.9l2-0.2l2 1.9l2 1l2 0.3l2-0.3l2-1.1l2-0.1l2 0.5l2-0.1l2-0.4l2 0l2 0.1l2 0l2-0.1l2 0.3l2 0.7l2 0.8l2 0.7l2 0.5l2-0.3l2-0.7l2 0l2 0.5l2 0.5l2 0.1l2 0.4l2 0.9l2 0.5l2-0.1l2 0l2 0l2 0l2 0.2l2 0l2-0.2l2-0.1l2-0.3l2-0.3l2 0.3l2 0.1l2-0.5l2-0.5l2-0.3l2-0.2l2 0.4l2 1.7l2 0.6l2-1.2l2-1l2 0.2l2 0.9l2 0.2l2-0.1l2 0.2l2 0.6l2 0l2-0.3l2 0.1l2 0.4l2 0.1l2 0.1l2 0.9l2 0.9l2 0l2 0.1l2 0.3l2 0.1l2-0.8l2-0.8l2-1.2l2-0.6l2 0.1l2 0l2 0l2 0.5l2 0.9l2 1.2l2 0.8l2 0.1l2-1.2l2-1.4l2-0.2l2 0.5l2 0.1l2 0l2-0.3l2 0.1l2 0.1l2-0.1l2 0.1l2 0.4l2 0.6l2 0.4l2 0.2l2-0.3l2-0.5l2-0.2l2 0.2l2 0.8l2 0.5l2-0.2l2-0.1l2-0.1l2 0l2 0.2l2-0.1l2-0.2l2 0.1l2 0.6l2 0.1l2-0.4l2 0.1l2-0.1l2-0.4l2 0.1l2 0l2-0.4l2-0.3l2-0.4l2-0.1l2 0.2l2-0.1l2 0l2-0.2l2-0.1l2 0l2-0.2l2 0l2 0.5l2 0.4l2 0.4l2 0l2-0.5l2 0.2l2 0.5l2 0l2 0.1l2 0l2-0.3l2 0l2 0.2l2 0.6l2-0.1l2-0.7l2-0.3l2 0.3l2 0.3l2 0l2 0l2-0.3l2-0.5l2-0.3l2 0.2l2 0.6l2-0.3l2-0.1l2 0.3l2-0.2l2 0.2l2 0.5l2 0.2l2-0.2l2 0l2 0.1l2-0.5l2-0.6l2 0.2l2 0.8l2 0.6l2-0.1l2-0.6l2-0.4l2 0.5l2 0.8l2-0.2l2-0.7l2 0.4l2 0.2l2-0.5l2-0.4l2-0.3l2-0.3l2-0.1l2 0.1l2 0.4l2-0.1l2-0.2l2 0.1l2 0.2l2 0l2-0.1l2 0.2l2 0.1l2 0.2l2 0.2l2 0.1l2 0.2l2 0l2 0.6l2 0.7l2-0.1l2-0.5l2 0l2-0.2l2-0.5l2-0.1l2 0.1l2 0l2 0l2 0.2l2-0.1l2-0.1l2 0.1l2 0.1l2 0.1l2-0.2l2-0.5l2 0.4l2 0.8l2-0.5l2-1.1l2 0.1l2 0.6l2 0.2l2 0.1l2 0.1l2 0.2l2 0l2-0.2l2 0.1l2 0.5l2 0l2-0.5l2-0.2l2 0.2l2 0.5l2 0.5"/>
<path class="curve" stroke="#ff80ff" d="M167.0 885.5l2-0.1l2-0.3l2-1.2l2-1l2-0.5l2-0.3l2 0.4l2 2.7l2 2l2-1l2-2.1l2-0.6l2 1.3l2 2.1l2 1.8l2 0.1l2-1.1l2-1.3l2-1l2-1l2-1.3l2-1.3l2-1.3l2 2l2 4.8l2 1.3l2-1.3l2-2.1l2 0.3l2 2.5l2 2.9l2 1.7l2-2.4l2-4l2-1.9l2 0.6l2 1.2l2-0.5l2-0.8l2 1l2 2.3l2 3.4l2 2.2l2-1.7l2-2.9l2-1.3l2 1.2l2 1.8l2 0.7l2-0.7l2-1.6l2-0.2l2 0.6l2 1.7l2 2.9l2 1.6l2-2.4l2-3.3l2 0.2l2 2.9l2 2.5l2-0.4l2-2l2-1l2 0.3l2 1l2 1.5l2-0.1l2 0.3l2 3.3l2 2.6l2 0.1l2-2.6l2-3.4l2-0.3l2 2.8l2 2.7l2-0.7l2-3.6l2-1.1l2 1.9l2 2.8l2 2.1l2 0.9l2 0.6l2 0.6l2-1.2l2-2.4l2-0.8l2 0.7l2 0.5l2 1.5l2 1.3l2-1.5l2-2.3l2-0.4l2 2.1l2 2.9l2 1.5l2 0.5l2-0.4l2-1.1l2-0.7l2-0.8l2-0.1l2 0l2-1.2l2-0.6l2 0.8l2 0.4l2 0.3l2 2.7l2 1.9l2 0.7l2 0.7l2-0.9l2-1.4l2-0.7l2-0.3l2-0.5l2-0.4l2 0l2-0.1l2 0.1l2-0.1l2 0l2 0.8l2-0.4l2-1l2 0.7l2 0.9l2-0.1l2-0.7l2-1.2l2 0.1l2 1l2-1.5l2-1.7l2 1.5l2 2.4l2 0.9l2-1.6l2-2.8l2-0.9l2 0.7l2 1l2 1.2l2-0.4l2-1.9l2-1.3l2-1l2 0.3l2 0.8l2-0.5l2-0.8l2 0.1l2 0.5l2 0.7l2-0.5l2-3.5l2-3l2-0.2l2-0.1l2 0.7l2 1.1l2-0.2l2-0.9l2-0.7l2-0.3l2-0.7l2-0.7l2 0.3l2-1.2l2 0.7l2 1.8l2-1.1l2-4.3l2-0.9l2 1.3l2 0.8l2-0.5l2-0.9l2-0.1l2-0.2l2-0.4l2 1.2l2 2.2l2 0.3l2-1.8l2-1.3l2-0.4l2 0.1l2 0.1l2 0.4l2 0.7l2 0.2l2-0.5l2-1.3l2-1.2l2 0.2l2 0.7l2-0.2l2-2.5l2-0.8l2 1.4l2 1.1l2-1.2l2-2.4l2 0.7l2 0.3l2-0.3l2-2.2l2-0.6l2 0.3l2-0.6l2-1l2-1.9l2-0.7l2-0.3l2-0.6l2-1.2l2-0.8l2-0.2l2-0.6l2-1.9l2-1.9l2-1.1l2-1.3l2-2.6l2-4.2l2-4.2l2-2.5l2-1.1l2-0.2l2-1.4l2-1.8l2-1.5l2-3.3l2-5.4l2-5.7l2-4.2l2-2.5l2-1.6l2-3.1l2-5.3l2-4.4l2-4.5l2-3.6l2-3.7l2-5.2l2-4.1l2-2l2-2.4l2-2.4l2-2.1l2-2.3l2-4.2l2-5.5l2-4.1l2-2.3l2-1.1l2-1.2l2-2.8l2-2.8l2-2.1l2-2.8l2-3.9l2-2.2l2-0.4l2-2.4l2-2.4l2-1.6l2-2.7l2-2.7l2-1.7l2-1.5l2-2.4l2-2.7l2-3.7l2-3.6l2-1.5l2-1.7l2-1.3l2 0.8l2 0.2l2-3.1l2-6.2l2-4.9l2-2.6l2-2.5l2-2.7l2-2.7l2-3.3l2-4.3l2-4.9l2-4l2-1.9l2-2.1l2-4.3l2-5.2l2-5l2-5.8l2-8.5l2-8.6l2-5.4l2-3.4l2-3.4l2-3.9l2-3l2-3.1l2-5.1l2-7.3l2-6.3l2-4.1l2-5.5l2-7.6l2-8.3l2-7.2l2-5.3l2-4.4l2-4.2l2-5l2-6.1l2-6l2-4.6l2-4.7l2-4.9l2-4.6l2-4.4l2-5.1l2-8.5l2-9.3l2-1.6l2 0.2l2-0.2l2-0.3l2-0.8l2-2.2l2-8.7l2-7.4l2-3.7l2-2.4l2-3.2l2-2.6l2-1.6l2-2.3l2-2.5l2-3.3l2-5.3l2-5.2l2-3.2l2-3l2-3.2l2-1.4l2-1.7l2-2.8l2-1.2l2-0.6l2 0.6l2 0.7l2-0.9l2 0.9l2 2.1l2-4.6l2-4l2 3.1l2 5.8l2 0.4l2-4.4l2-2l2-0.6l2 0.1l2 2.1l2 6.4l2 1.5l2-0.8l2 1.5l2 4.4l2 4.3l2-0.3l2-1.9l2-2.5l2 1.4l2 4.7l2 4.7l2 5.2l2 1.7l2-1l2-1.7l2-0.6l2 1.3l2 4.8l2 5.6l2 2.4l2 1.5l2 2.3l2 3.7l2 4.5l2 3.4l2 1.6l2 1.1l2 2l2 3.5l2 7.1l2 2.9l2 1.5l2 0.8l2 0.1l2 4.2l2 5.6l2 3.4l2 3.9l2 3.8l2 2.9l2 2.8l2 1.8l2 1.5l2 3l2 2l2 1.8l2 5l2 5.2l2 3.7l2 6.2l2 5.3l2 1.9l2 3.1l2 3.1l2 1.1l2 1.9l2 3.7l2 3.8l2 3.2l2 2.3l2 2.4l2 4.7l2 4.7l2 2.8l2 1.7l2 1.5l2 2l2 3.7l2 4.4l2 2.6l2 1.2l2 1.4l2 2.4l2 3.2l2 4.8l2 4l2 1.8l2 1.1l2 0.9l2 1.3l2 1.1l2 3.8l2 6.6l2 3l2-0.6l2-0.9l2-0.1l2 0.1l2 1.6l2 3.2l2 3.2l2 1.3l2 1.2l2 1.9l2 1.8l2 2l2 0.9l2 0.2l2 1.6l2 2l2 1.3l2 2.2l2 2.5l2 2.1l2 2.9l2 3l2 1.7l2 0.3l2 0.6l2 0.7l2 0l2 0.1l2 0.4l2 1.1l2 2.5l2 2.4l2 2.4l2 2.3l2 1.6l2-0.2l2-0.4l2 0.9l2 0.6l2-0.1l2 1.7l2 2.1l2 1.2l2 1.4l2 1.4l2 1l2-0.2l2-0.3l2 1.6l2 1.9l2 0.2l2 0.2l2 0.7l2 1.1l2 1.6l2 0.7l2 1l2 1.1l2 0.2l2 0.5l2 1.3l2 1.1l2 0.1l2 0.1l2 1.2l2 1.1l2 0.6l2 0.4l2-0.1l2 0.5l2 0.9l2 0.4l2 0.7l2 2l2 1.8l2 0.7l2 0.2l2-0.3l2-0.1l2 0.1l2-0.4l2 0.1l2 1.8l2 1.8l2 0.6l2 0.9l2 0.7l2-0.4l2-0.1l2 0.6l2 0.3l2-0.7l2-0.9l2 0.4l2 0.8l2 1.7l2 2.2l2 0.6l2-1.2l2-1.5l2-0.3l2 0.8l2 2.7l2 3.1l2 0.4l2-0.8l2 0.6l2 0.9l2-0.2l2-0.6l2 0.6l2 2l2 0.8l2-1.6l2-1.2l2 0.4l2 0.9l2 1.3l2 1.9l2 0.3l2-1l2 0.6l2 1l2-0.1l2-0.1l2 0.7l2 0.8l2-0.3l2-0.1l2 1.1l2-0.3l2-1.2l2 0.5l2 1.7l2 0.9l2 0.6l2 1.5l2 0.9l2-0.2l2-1l2 0.1l2 1.4l2 0.9l2 0.3l2-0.1l2-0.4l2-0.7l2 0.9l2 1.1l2-0.4l2 0.3l2 1.2l2 1.3l2 0.3l2-0.8l2 0.4l2 2.3l2 0.7l2-1.3l2-0.4l2 1l2 0l2-0.1l2 0.4l2-0.3l2 0.3l2 1.7l2 2.4l2 1l2-0.8l2-0.9l2-0.6l2-0.6l2 0.5l2 0.8l2-0.7l2-0.3l2 1l2 0.6l2 1.1l2 1.3l2 0.3l2 0.8l2 0l2-0.5l2 0.4l2 0.6l2 0.1l2 0.2l2 0.3l2-0.1l2-0.1l2 0.9l2 0.8l2 0.2l2 0.6l2 0.5l2-0.1l2 0.3l2 0.8l2 0.2l2 0.4l2 1l2 0.7l2 0.2l2-0.1l2-0.5l2-0.2l2 0.3l2-1l2-1.4l2 0.4l2 1.8l2 0.5l2-0.4l2 0.8l2 0.5l2 0.1l2 1.6l2 2.2l2 0l2-1.1l2-1.8l2-1.7l2 0.2l2 1.7l2 2.2l2 1.3l2 0.5l2 0.4l2-0.8l2-1l2-0.2l2-0.1l2 0.5l2 0.8l2 0.3l2 0.3l2-0.2l2-0.4l2 0.6l2 0.7l2 1.3l2 2l2 1l2-1.2l2-1.1l2 1l2 1.1l2-0.3l2-1.4l2-1.2l2 0.6l2 1.7l2 0.8l2-0.6l2-0.8l2 0.4l2 0.2l2-0.1l2 0.3l2 0l2-0.2l2 0.6l2 0.9l2 0.6l2 0.7l2 0.4l2 0.4l2 1.4l2 1.1l2 0l2-0.2l2 0.1l2-0.1l2-0.6l2-0.8l2-0.1l2-0.1l2-1.4l2-0.2l2 1.4l2 0.7l2 0.4l2 0.5l2-0.3l2 0.5l2 0.8l2-0.1l2 0l2-0.5l2-0.8l2-0.2l2 0.7l2 0.4l2-0.5l2 0.7l2 1.4l2-0.3l2-0.2l2 0.5l2-0.2l2-0.3l2 0l2-0.4l2-1l2 0.2l2 0.7l2 0.1l2 1l2 0.4l2-1.2l2-0.1l2 0.3l2 0.1l2 0.2l2-0.3l2 0.6l2 1.7l2 0.1l2-1l2-0.2l2 0.6l2 0.4l2-0.1l2-0.6l2-0.9l2-0.3l2 0.5l2 1.2l2 0.5l2 0.1l2 1l2 0.8l2-0.3l2-0.2l2 0l2-0.4l2 0l2-0.4l2-1.5l2-0.9l2-0.4l2-0.4l2 0.2l2 0.8l2 0.4l2-0.4l2 0.3l2 0.4l2-0.2l2-0.1l2 1.1l2 0.6l2-0.9l2-0.1l2 0.7l2 0.3l2 0.2l2 0.2l2 0.4l2 0.9l2 0.6l2-0.2l2-1l2-0.8l2-0.2l2-0.7l2-0.3l2 0.3l2-0.4l2-0.3l2 0.1l2 0.8l2 1.1l2 0.1l2-0.5l2-0.7l2-0.3l2-0.1l2-0.3l2 0.2l2 0.5l2-0.2l2 0.2l2 1.5l2 0.7l2 0.1l2 0.6l2 0.1l2-0.2l2 0.2l2-0.2l2-1.8l2-1.4l2 0.3l2 0.8l2 0.7l2 0.4l2-0.7l2 0l2 1.3l2 0.2l2-0.7l2-0.3l2 0.6l2 0.1l2-1.1l2-0.4l2 0.7l2 0.9l2-0.1l2-0.6l2-0.2l2 0.4l2 0l2 0.1l2 0.2l2-0.3l2-0.2l2-0.2l2 0.2l2 0.6l2 0.6l2 0.6l2-0.4l2-1.3l2-0.6l2 0.1l2-0.4l2 0.2l2-0.4l2-1.4l2-0.6l2 0.7l2 0.2l2-0.8l2-0.3l2 1.1l2 1.7l2 1.5l2 0.5l2-1.5l2-2.8l2-0.4l2 1.9l2 1.7l2 0.3l2-0.4l2-0.7l2 0l2 0.6l2-0.2l2-0.7l2-0.6l2-0.3l2 0.8l2 1.6l2 0.7l2-0.1l2 0.1l2 0.4l2-0.2l2-0.4l2-0.2l2-0.5l2-1l2-1.1l2 0.1l2 1.5l2 0.3l2-1.3l2-0.2l2 0.4l2 0.1l2 0.4l2 0.2l2 0.3l2-0.3l2-0.4l2 0.1l2 0.3l2 0.5l2 0.1l2 0.3"/>
</g>
<g id="ticks">
<text class="tick" x="107.1 150.5 192.5" y="1213">450</text>
<text class="tick" x="421.5 462.4 504.5" y="1213">500</text>
<text class="tick" x="733.5 774.6 816.4" y="1213">550</text>
<text class="tick" x="1044.6 1087.5 1128.6" y="1213">600</text>
<text class="tick" x="1357.5 1399.6 1441.5" y="1213">650</text>
<text class="tick" x="1671 1712.5 1753.5" y="1213">700</text>
<text class="tick" x="1984.1 2024.5 2066.5" y="1213">750</text>
</g>
<text class="title" x="1214" y="1316">Wavelength (nm)</text>
<text class="title" transform="translate(88 611.5) rotate(-90)">Intensity (a.u.)</text>
<g id="ann">
<text class="ann" x="852.9 896.3 937.6" y="334" dy="0 0 4.0">60°</text>
<circle class="thin" cx="953.0" cy="294.0" r="8.2"/><circle class="trim" cx="953.0" cy="294.0" r="12.6"/>
<text class="ann" x="1114.5 1157.3 1198.5" y="336" dy="0 0 3.9">40°</text>
<circle class="thin" cx="1213.9" cy="295.9" r="8.2"/><circle class="trim" cx="1213.9" cy="295.9" r="12.6"/>
<text class="ann" x="1265.0 1305.3 1347.6" y="334" dy="0 0 4.0">30°</text>
<circle class="thin" cx="1363.0" cy="294.0" r="8.2"/><circle class="trim" cx="1363.0" cy="294.0" r="12.6"/>
<text class="ann" x="1412.4 1454.2 1496.6" y="332" dy="0 0 4.0">20°</text>
<circle class="thin" cx="1512.0" cy="292.0" r="8.2"/><circle class="trim" cx="1512.0" cy="292.0" r="12.6"/>
</g>
</svg>
</body>
</html>
